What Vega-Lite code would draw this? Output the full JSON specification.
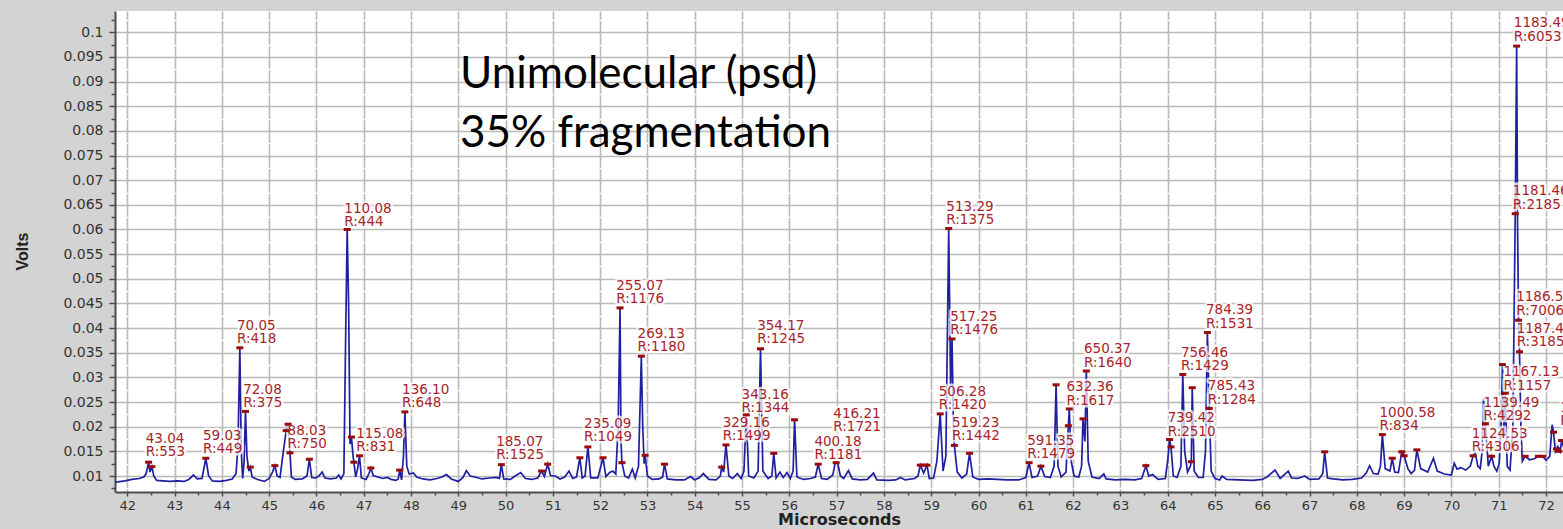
{
"$schema": "https://vega.github.io/schema/vega-lite/v6.json",
"width": 1448, "height": 481,
"autosize": {"type": "none"},
"padding": {"left": 115, "top": 11, "right": 0, "bottom": 37},
"background": "#d3d3d3",
"config": {"view": {"fill": "white", "stroke": null}},
"datasets": {
"spectrum": [
{"t":41.70,"v":0.0087},{"t":41.80,"v":0.0088},{"t":41.95,"v":0.0090},{"t":42.10,"v":0.0093},{"t":42.25,"v":0.0095},{"t":42.35,"v":0.0098},{"t":42.40,"v":0.0105},{"t":42.45,"v":0.0128},{"t":42.48,"v":0.0108},{"t":42.52,"v":0.0119},{"t":42.56,"v":0.0100},{"t":42.62,"v":0.0091},{"t":42.75,"v":0.0090},{"t":42.90,"v":0.0089},{"t":43.05,"v":0.0090},{"t":43.20,"v":0.0089},{"t":43.30,"v":0.0093},{"t":43.40,"v":0.0102},{"t":43.48,"v":0.0094},{"t":43.58,"v":0.0095},{"t":43.66,"v":0.0136},{"t":43.72,"v":0.0100},{"t":43.80,"v":0.0090},{"t":43.95,"v":0.0089},{"t":44.10,"v":0.0091},{"t":44.22,"v":0.0094},{"t":44.30,"v":0.0105},{"t":44.34,"v":0.0160},{"t":44.38,"v":0.0360},{"t":44.41,"v":0.0150},{"t":44.44,"v":0.0095},{"t":44.47,"v":0.0130},{"t":44.50,"v":0.0231},{"t":44.53,"v":0.0140},{"t":44.57,"v":0.0110},{"t":44.60,"v":0.0118},{"t":44.64,"v":0.0098},{"t":44.75,"v":0.0093},{"t":44.90,"v":0.0089},{"t":45.00,"v":0.0095},{"t":45.07,"v":0.0108},{"t":45.12,"v":0.0121},{"t":45.17,"v":0.0100},{"t":45.23,"v":0.0097},{"t":45.30,"v":0.0150},{"t":45.36,"v":0.0192},{"t":45.40,"v":0.0205},{"t":45.42,"v":0.0170},{"t":45.44,"v":0.0147},{"t":45.47,"v":0.0098},{"t":45.55,"v":0.0093},{"t":45.70,"v":0.0094},{"t":45.80,"v":0.0100},{"t":45.85,"v":0.0134},{"t":45.90,"v":0.0097},{"t":45.98,"v":0.0096},{"t":46.05,"v":0.0100},{"t":46.12,"v":0.0108},{"t":46.18,"v":0.0096},{"t":46.30,"v":0.0094},{"t":46.42,"v":0.0096},{"t":46.47,"v":0.0102},{"t":46.52,"v":0.0094},{"t":46.58,"v":0.0105},{"t":46.62,"v":0.0400},{"t":46.65,"v":0.0600},{"t":46.68,"v":0.0450},{"t":46.71,"v":0.0165},{"t":46.74,"v":0.0179},{"t":46.77,"v":0.0145},{"t":46.79,"v":0.0128},{"t":46.83,"v":0.0098},{"t":46.87,"v":0.0115},{"t":46.91,"v":0.0141},{"t":46.95,"v":0.0096},{"t":47.05,"v":0.0093},{"t":47.11,"v":0.0105},{"t":47.15,"v":0.0116},{"t":47.20,"v":0.0101},{"t":47.30,"v":0.0098},{"t":47.40,"v":0.0095},{"t":47.50,"v":0.0097},{"t":47.58,"v":0.0093},{"t":47.68,"v":0.0091},{"t":47.73,"v":0.0094},{"t":47.76,"v":0.0112},{"t":47.80,"v":0.0092},{"t":47.84,"v":0.0140},{"t":47.87,"v":0.0230},{"t":47.91,"v":0.0120},{"t":47.96,"v":0.0104},{"t":48.05,"v":0.0106},{"t":48.12,"v":0.0098},{"t":48.25,"v":0.0094},{"t":48.40,"v":0.0092},{"t":48.55,"v":0.0095},{"t":48.65,"v":0.0098},{"t":48.75,"v":0.0103},{"t":48.85,"v":0.0094},{"t":49.00,"v":0.0089},{"t":49.10,"v":0.0097},{"t":49.17,"v":0.0111},{"t":49.25,"v":0.0100},{"t":49.35,"v":0.0098},{"t":49.50,"v":0.0094},{"t":49.65,"v":0.0096},{"t":49.80,"v":0.0097},{"t":49.87,"v":0.0095},{"t":49.91,"v":0.0123},{"t":49.96,"v":0.0094},{"t":50.10,"v":0.0093},{"t":50.20,"v":0.0100},{"t":50.32,"v":0.0107},{"t":50.42,"v":0.0095},{"t":50.55,"v":0.0093},{"t":50.68,"v":0.0096},{"t":50.76,"v":0.0110},{"t":50.82,"v":0.0099},{"t":50.89,"v":0.0124},{"t":50.95,"v":0.0101},{"t":51.05,"v":0.0100},{"t":51.15,"v":0.0094},{"t":51.25,"v":0.0098},{"t":51.34,"v":0.0110},{"t":51.42,"v":0.0095},{"t":51.50,"v":0.0098},{"t":51.57,"v":0.0137},{"t":51.62,"v":0.0096},{"t":51.68,"v":0.0100},{"t":51.74,"v":0.0159},{"t":51.80,"v":0.0096},{"t":51.95,"v":0.0096},{"t":52.06,"v":0.0137},{"t":52.12,"v":0.0099},{"t":52.20,"v":0.0107},{"t":52.27,"v":0.0110},{"t":52.33,"v":0.0104},{"t":52.38,"v":0.0200},{"t":52.42,"v":0.0441},{"t":52.44,"v":0.0170},{"t":52.46,"v":0.0127},{"t":52.52,"v":0.0100},{"t":52.60,"v":0.0096},{"t":52.68,"v":0.0114},{"t":52.74,"v":0.0096},{"t":52.81,"v":0.0120},{"t":52.87,"v":0.0343},{"t":52.90,"v":0.0200},{"t":52.93,"v":0.0125},{"t":52.95,"v":0.0142},{"t":53.00,"v":0.0100},{"t":53.10,"v":0.0093},{"t":53.25,"v":0.0094},{"t":53.32,"v":0.0098},{"t":53.36,"v":0.0124},{"t":53.42,"v":0.0094},{"t":53.60,"v":0.0092},{"t":53.78,"v":0.0092},{"t":53.91,"v":0.0099},{"t":54.00,"v":0.0092},{"t":54.10,"v":0.0097},{"t":54.18,"v":0.0105},{"t":54.30,"v":0.0093},{"t":54.45,"v":0.0092},{"t":54.54,"v":0.0100},{"t":54.57,"v":0.0118},{"t":54.61,"v":0.0108},{"t":54.66,"v":0.0163},{"t":54.72,"v":0.0100},{"t":54.80,"v":0.0095},{"t":54.90,"v":0.0105},{"t":54.98,"v":0.0095},{"t":55.04,"v":0.0110},{"t":55.09,"v":0.0224},{"t":55.14,"v":0.0100},{"t":55.25,"v":0.0096},{"t":55.34,"v":0.0110},{"t":55.39,"v":0.0358},{"t":55.44,"v":0.0110},{"t":55.55,"v":0.0095},{"t":55.63,"v":0.0100},{"t":55.67,"v":0.0146},{"t":55.72,"v":0.0096},{"t":55.80,"v":0.0108},{"t":55.87,"v":0.0097},{"t":55.95,"v":0.0107},{"t":56.02,"v":0.0095},{"t":56.08,"v":0.0110},{"t":56.11,"v":0.0214},{"t":56.16,"v":0.0098},{"t":56.30,"v":0.0093},{"t":56.45,"v":0.0095},{"t":56.55,"v":0.0098},{"t":56.61,"v":0.0124},{"t":56.68,"v":0.0095},{"t":56.80,"v":0.0093},{"t":56.92,"v":0.0102},{"t":56.97,"v":0.0127},{"t":57.02,"v":0.0127},{"t":57.08,"v":0.0100},{"t":57.15,"v":0.0095},{"t":57.25,"v":0.0111},{"t":57.33,"v":0.0094},{"t":57.50,"v":0.0092},{"t":57.65,"v":0.0093},{"t":57.78,"v":0.0106},{"t":57.85,"v":0.0092},{"t":58.10,"v":0.0091},{"t":58.25,"v":0.0092},{"t":58.35,"v":0.0097},{"t":58.45,"v":0.0092},{"t":58.65,"v":0.0095},{"t":58.72,"v":0.0100},{"t":58.77,"v":0.0122},{"t":58.84,"v":0.0106},{"t":58.91,"v":0.0122},{"t":58.96,"v":0.0095},{"t":59.05,"v":0.0096},{"t":59.12,"v":0.0130},{"t":59.19,"v":0.0226},{"t":59.25,"v":0.0110},{"t":59.31,"v":0.0140},{"t":59.37,"v":0.0602},{"t":59.41,"v":0.0280},{"t":59.44,"v":0.0378},{"t":59.47,"v":0.0200},{"t":59.49,"v":0.0162},{"t":59.55,"v":0.0108},{"t":59.65,"v":0.0096},{"t":59.75,"v":0.0104},{"t":59.81,"v":0.0146},{"t":59.88,"v":0.0098},{"t":60.00,"v":0.0093},{"t":60.20,"v":0.0094},{"t":60.40,"v":0.0093},{"t":60.60,"v":0.0092},{"t":60.85,"v":0.0092},{"t":61.00,"v":0.0097},{"t":61.07,"v":0.0127},{"t":61.13,"v":0.0097},{"t":61.25,"v":0.0100},{"t":61.32,"v":0.0120},{"t":61.40,"v":0.0099},{"t":61.52,"v":0.0097},{"t":61.60,"v":0.0120},{"t":61.64,"v":0.0285},{"t":61.68,"v":0.0120},{"t":61.75,"v":0.0098},{"t":61.85,"v":0.0108},{"t":61.90,"v":0.0202},{"t":61.92,"v":0.0236},{"t":61.96,"v":0.0130},{"t":62.02,"v":0.0100},{"t":62.12,"v":0.0098},{"t":62.18,"v":0.0120},{"t":62.21,"v":0.0216},{"t":62.25,"v":0.0170},{"t":62.28,"v":0.0313},{"t":62.32,"v":0.0130},{"t":62.40,"v":0.0098},{"t":62.55,"v":0.0095},{"t":62.65,"v":0.0104},{"t":62.70,"v":0.0094},{"t":62.90,"v":0.0092},{"t":63.10,"v":0.0093},{"t":63.30,"v":0.0092},{"t":63.45,"v":0.0095},{"t":63.54,"v":0.0121},{"t":63.60,"v":0.0100},{"t":63.68,"v":0.0103},{"t":63.80,"v":0.0093},{"t":63.95,"v":0.0095},{"t":64.00,"v":0.0130},{"t":64.04,"v":0.0174},{"t":64.07,"v":0.0159},{"t":64.12,"v":0.0100},{"t":64.20,"v":0.0097},{"t":64.28,"v":0.0120},{"t":64.32,"v":0.0306},{"t":64.36,"v":0.0150},{"t":64.42,"v":0.0108},{"t":64.48,"v":0.0120},{"t":64.50,"v":0.0129},{"t":64.52,"v":0.0279},{"t":64.56,"v":0.0110},{"t":64.65,"v":0.0097},{"t":64.75,"v":0.0097},{"t":64.80,"v":0.0150},{"t":64.84,"v":0.0391},{"t":64.88,"v":0.0237},{"t":64.92,"v":0.0110},{"t":65.00,"v":0.0095},{"t":65.10,"v":0.0092},{"t":65.15,"v":0.0100},{"t":65.25,"v":0.0093},{"t":65.50,"v":0.0092},{"t":65.80,"v":0.0091},{"t":66.00,"v":0.0093},{"t":66.10,"v":0.0098},{"t":66.27,"v":0.0112},{"t":66.38,"v":0.0095},{"t":66.55,"v":0.0110},{"t":66.62,"v":0.0096},{"t":66.75,"v":0.0095},{"t":66.90,"v":0.0100},{"t":67.00,"v":0.0093},{"t":67.20,"v":0.0094},{"t":67.28,"v":0.0105},{"t":67.32,"v":0.0149},{"t":67.38,"v":0.0096},{"t":67.50,"v":0.0094},{"t":67.70,"v":0.0092},{"t":67.90,"v":0.0093},{"t":68.10,"v":0.0096},{"t":68.20,"v":0.0106},{"t":68.27,"v":0.0121},{"t":68.35,"v":0.0105},{"t":68.45,"v":0.0104},{"t":68.50,"v":0.0120},{"t":68.54,"v":0.0184},{"t":68.60,"v":0.0115},{"t":68.70,"v":0.0110},{"t":68.75,"v":0.0136},{"t":68.80,"v":0.0108},{"t":68.88,"v":0.0107},{"t":68.95,"v":0.0149},{"t":69.00,"v":0.0141},{"t":69.08,"v":0.0115},{"t":69.15,"v":0.0105},{"t":69.22,"v":0.0112},{"t":69.27,"v":0.0153},{"t":69.35,"v":0.0115},{"t":69.50,"v":0.0108},{"t":69.62,"v":0.0136},{"t":69.70,"v":0.0110},{"t":69.85,"v":0.0104},{"t":70.00,"v":0.0102},{"t":70.06,"v":0.0126},{"t":70.12,"v":0.0114},{"t":70.20,"v":0.0117},{"t":70.30,"v":0.0112},{"t":70.40,"v":0.0120},{"t":70.46,"v":0.0141},{"t":70.50,"v":0.0148},{"t":70.56,"v":0.0120},{"t":70.61,"v":0.0115},{"t":70.65,"v":0.0150},{"t":70.68,"v":0.0257},{"t":70.72,"v":0.0206},{"t":70.78,"v":0.0120},{"t":70.85,"v":0.0140},{"t":70.90,"v":0.0120},{"t":70.96,"v":0.0110},{"t":71.01,"v":0.0125},{"t":71.05,"v":0.0200},{"t":71.08,"v":0.0326},{"t":71.11,"v":0.0180},{"t":71.14,"v":0.0268},{"t":71.18,"v":0.0120},{"t":71.24,"v":0.0112},{"t":71.30,"v":0.0200},{"t":71.35,"v":0.0632},{"t":71.38,"v":0.0972},{"t":71.40,"v":0.0600},{"t":71.42,"v":0.0416},{"t":71.44,"v":0.0352},{"t":71.47,"v":0.0200},{"t":71.50,"v":0.0130},{"t":71.56,"v":0.0140},{"t":71.65,"v":0.0133},{"t":71.75,"v":0.0135},{"t":71.84,"v":0.0140},{"t":71.93,"v":0.0140},{"t":72.00,"v":0.0132},{"t":72.08,"v":0.0140},{"t":72.13,"v":0.0204},{"t":72.16,"v":0.0189},{"t":72.20,"v":0.0150},{"t":72.25,"v":0.0160},{"t":72.30,"v":0.0150},{"t":72.33,"v":0.0172},{"t":72.40,"v":0.0150}
],
"markers": [
{"t":42.45,"v":0.0128},{"t":42.52,"v":0.0119},{"t":43.66,"v":0.0136},{"t":44.38,"v":0.036},{"t":44.50,"v":0.0231},{"t":44.60,"v":0.0118},{"t":45.12,"v":0.0121},{"t":45.36,"v":0.0192},{"t":45.40,"v":0.0205},{"t":45.44,"v":0.0147},{"t":45.85,"v":0.0134},{"t":46.65,"v":0.0600},{"t":46.74,"v":0.0179},{"t":46.79,"v":0.0128},{"t":46.91,"v":0.0141},{"t":47.15,"v":0.0116},{"t":47.76,"v":0.0112},{"t":47.87,"v":0.0230},{"t":49.91,"v":0.0123},{"t":50.76,"v":0.0110},{"t":50.89,"v":0.0124},{"t":51.57,"v":0.0137},{"t":51.74,"v":0.0159},{"t":52.06,"v":0.0137},{"t":52.42,"v":0.0441},{"t":52.46,"v":0.0127},{"t":52.87,"v":0.0343},{"t":52.95,"v":0.0142},{"t":53.36,"v":0.0124},{"t":54.57,"v":0.0118},{"t":54.66,"v":0.0163},{"t":55.09,"v":0.0224},{"t":55.39,"v":0.0358},{"t":55.67,"v":0.0146},{"t":56.11,"v":0.0214},{"t":56.61,"v":0.0124},{"t":56.99,"v":0.0127},{"t":58.77,"v":0.0122},{"t":58.84,"v":0.0122},{"t":58.91,"v":0.0122},{"t":59.19,"v":0.0226},{"t":59.37,"v":0.0602},{"t":59.44,"v":0.0378},{"t":59.49,"v":0.0162},{"t":59.81,"v":0.0146},{"t":61.07,"v":0.0127},{"t":61.32,"v":0.0120},{"t":61.64,"v":0.0285},{"t":61.92,"v":0.0236},{"t":61.90,"v":0.0202},{"t":62.21,"v":0.0216},{"t":62.28,"v":0.0313},{"t":63.54,"v":0.0121},{"t":64.04,"v":0.0174},{"t":64.07,"v":0.0159},{"t":64.32,"v":0.0306},{"t":64.50,"v":0.0129},{"t":64.52,"v":0.0279},{"t":64.84,"v":0.0391},{"t":64.88,"v":0.0237},{"t":67.32,"v":0.0149},{"t":68.54,"v":0.0184},{"t":68.75,"v":0.0136},{"t":68.95,"v":0.0149},{"t":69.00,"v":0.0141},{"t":69.27,"v":0.0153},{"t":70.46,"v":0.0141},{"t":70.72,"v":0.0206},{"t":70.85,"v":0.0140},{"t":71.08,"v":0.0326},{"t":71.14,"v":0.0268},{"t":71.35,"v":0.0632},{"t":71.38,"v":0.0972},{"t":71.42,"v":0.0416},{"t":71.44,"v":0.0352},{"t":71.56,"v":0.0140},{"t":71.84,"v":0.0140},{"t":71.93,"v":0.0140},{"t":72.16,"v":0.0189},{"t":72.22,"v":0.0155},{"t":72.27,"v":0.0150},{"t":72.33,"v":0.0172}
],
"labels": [
{"t":42.39,"v":0.0167,"label":"43.04\nR:553"},
{"t":43.60,"v":0.0174,"label":"59.03\nR:449"},
{"t":44.32,"v":0.0397,"label":"70.05\nR:418"},
{"t":44.45,"v":0.0267,"label":"72.08\nR:375"},
{"t":45.39,"v":0.0184,"label":"88.03\nR:750"},
{"t":46.59,"v":0.0634,"label":"110.08\nR:444"},
{"t":46.84,"v":0.0177,"label":"115.08\nR:831"},
{"t":47.81,"v":0.0266,"label":"136.10\nR:648"},
{"t":49.80,"v":0.0161,"label":"185.07\nR:1525"},
{"t":51.66,"v":0.0197,"label":"235.09\nR:1049"},
{"t":52.34,"v":0.0478,"label":"255.07\nR:1176"},
{"t":52.79,"v":0.0380,"label":"269.13\nR:1180"},
{"t":54.59,"v":0.0199,"label":"329.16\nR:1499"},
{"t":54.99,"v":0.0257,"label":"343.16\nR:1344"},
{"t":55.32,"v":0.0396,"label":"354.17\nR:1245"},
{"t":56.53,"v":0.0161,"label":"400.18\nR:1181"},
{"t":56.93,"v":0.0218,"label":"416.21\nR:1721"},
{"t":59.16,"v":0.0263,"label":"506.28\nR:1420"},
{"t":59.32,"v":0.0638,"label":"513.29\nR:1375"},
{"t":59.40,"v":0.0415,"label":"517.25\nR:1476"},
{"t":59.44,"v":0.0199,"label":"519.23\nR:1442"},
{"t":61.03,"v":0.0163,"label":"591.35\nR:1479"},
{"t":61.86,"v":0.0272,"label":"632.36\nR:1617"},
{"t":62.23,"v":0.0349,"label":"650.37\nR:1640"},
{"t":64.00,"v":0.0209,"label":"739.42\nR:2510"},
{"t":64.28,"v":0.0342,"label":"756.46\nR:1429"},
{"t":64.81,"v":0.0428,"label":"784.39\nR:1531"},
{"t":64.85,"v":0.0274,"label":"785.43\nR:1284"},
{"t":68.48,"v":0.0220,"label":"1000.58\nR:834"},
{"t":70.43,"v":0.0177,"label":"1124.53\nR:4306"},
{"t":70.68,"v":0.0240,"label":"1139.49\nR:4292"},
{"t":71.10,"v":0.0302,"label":"1167.13\nR:1157"},
{"t":71.30,"v":0.0669,"label":"1181.46\nR:2185"},
{"t":71.32,"v":0.1010,"label":"1183.49\nR:6053"},
{"t":71.37,"v":0.0454,"label":"1186.51\nR:7006"},
{"t":71.38,"v":0.0391,"label":"1187.47\nR:3185"},
{"t":72.30,"v":0.0230,"label":"1195.52\nR:1316"}
],
"notes": [
{"t":49.035,"v":0.08864,"label":"Unimolecular (psd)\n35% fragmentation"}
]
},
"encoding": {
"x": {"field": "t", "type": "quantitative",
 "scale": {"domain": [41.74, 72.36], "nice": false, "zero": false},
 "axis": {"title": "Microseconds", "titleFont": "DejaVu Sans", "titleFontSize": 16, "titleFontWeight": "bold", "titleColor": "#222", "titleY": 32, "titleBaseline": "alphabetic",
  "values": [42,42.5,43,43.5,44,44.5,45,45.5,46,46.5,47,47.5,48,48.5,49,49.5,50,50.5,51,51.5,52,52.5,53,53.5,54,54.5,55,55.5,56,56.5,57,57.5,58,58.5,59,59.5,60,60.5,61,61.5,62,62.5,63,63.5,64,64.5,65,65.5,66,66.5,67,67.5,68,68.5,69,69.5,70,70.5,71,71.5,72],
  "labelExpr": "round(datum.value*2) % 2 == 1 ? '' : format(datum.value, 'd')",
  "labelFont": "DejaVu Sans", "labelFontSize": 13, "labelColor": "#333", "labelPadding": 3, "labelFlush": false, "labelOverlap": false,
  "tickSize": {"condition": {"test": "round(datum.value*2) % 2 == 1", "value": 3}, "value": 4},
  "tickColor": "#4d4d4d", "tickWidth": 1.5,
  "grid": true, "gridWidth": 1.6,
  "gridColor": {"condition": {"test": "round(datum.value*2) % 2 == 1", "value": "#ffffff"}, "value": "#b9b9b9"},
  "domainColor": "#4d4d4d", "domainWidth": 2}},
"y": {"field": "v", "type": "quantitative",
 "scale": {"domain": [0.006755, 0.10432], "nice": false, "zero": false},
 "axis": {"title": "Volts", "titleFont": "Liberation Sans", "titleFontSize": 16, "titleFontWeight": "bold", "titleColor": "#222", "titleX": -93, "titleY": 240, "titleAngle": 270, "titleAlign": "center", "titleBaseline": "middle",
  "values": [0.0075,0.01,0.0125,0.015,0.0175,0.02,0.0225,0.025,0.0275,0.03,0.0325,0.035,0.0375,0.04,0.0425,0.045,0.0475,0.05,0.0525,0.055,0.0575,0.06,0.0625,0.065,0.0675,0.07,0.0725,0.075,0.0775,0.08,0.0825,0.085,0.0875,0.09,0.0925,0.095,0.0975,0.1,0.1025],
  "labelExpr": "round(datum.value*400) % 2 == 1 ? '' : format(datum.value, '~g')",
  "labelFont": "DejaVu Sans", "labelFontSize": 14, "labelColor": "#333", "labelPadding": 6, "labelOverlap": false, "labelFlush": false,
  "tickSize": {"condition": {"test": "round(datum.value*400) % 2 == 1", "value": 4}, "value": 6},
  "tickColor": "#4d4d4d", "tickWidth": 1.5,
  "grid": true, "gridWidth": 1.6,
  "gridColor": {"condition": {"test": "round(datum.value*400) % 2 == 1", "value": "#ffffff"}, "value": "#b9b9b9"},
  "domainColor": "#4d4d4d", "domainWidth": 2}}
},
"layer": [
{"data": {"name": "spectrum"},
 "mark": {"type": "line", "color": "#1f1fa0", "strokeWidth": 1.7, "clip": true}},
{"data": {"name": "labels"},
 "mark": {"type": "text", "align": "left", "baseline": "alphabetic", "font": "DejaVu Sans", "fontSize": 13.5, "lineHeight": 13.3, "lineBreak": "\n", "fill": "white", "stroke": "white", "strokeWidth": 5, "strokeJoin": "round", "opacity": 0.75, "clip": true},
 "encoding": {"text": {"field": "label"}}},
{"data": {"name": "markers"},
 "mark": {"type": "tick", "orient": "horizontal", "size": 7, "thickness": 3, "color": "#9a0a0a", "opacity": 1, "clip": true}},
{"data": {"name": "labels"},
 "mark": {"type": "text", "align": "left", "baseline": "alphabetic", "font": "DejaVu Sans", "fontSize": 13.5, "lineHeight": 13.3, "lineBreak": "\n", "color": "#a8242a", "clip": true},
 "encoding": {"text": {"field": "label"}}},
{"data": {"name": "notes"},
 "mark": {"type": "text", "align": "left", "baseline": "alphabetic", "font": "Lato", "fontSize": 44, "lineHeight": 58.5, "lineBreak": "\n", "color": "#000000"},
 "encoding": {"text": {"field": "label"}}}
]
}
